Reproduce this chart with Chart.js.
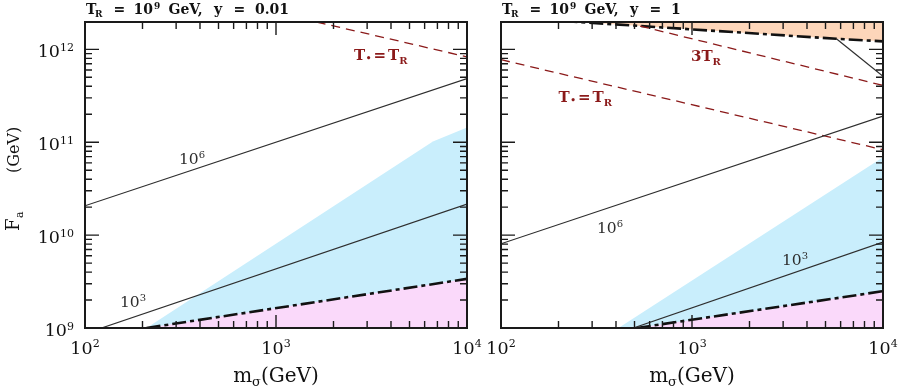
<!DOCTYPE html>
<html><head><meta charset="utf-8">
<script src="https://cdn.jsdelivr.net/npm/chart.js@4/dist/chart.umd.min.js"></script>
<style>
html,body{margin:0;padding:0;background:#fff;}
body{width:899px;height:387px;position:relative;overflow:hidden;}
canvas{position:absolute;top:0;}
#c1{left:0;}
#c2{left:480px;}
</style></head><body>
<canvas id="c1" width="499" height="387"></canvas>
<canvas id="c2" width="419" height="387"></canvas>
<script>
// ---------- axis ranges & tick labels ----------
const X_MIN = 100, X_MAX = 1e4;
const Y_MIN = 1e9, Y_MAX = 1.97e12;
const xDecades = [2, 3, 4];
const yDecades = [9, 10, 11, 12];

// ---------- left panel: T_R = 1e9 GeV, y = 0.01 ----------
const L_c1e6_m = [100, 10000];
const L_c1e6_F = [2.07e10, 4.85e11];
const L_c1e3_m = [122, 10000];
const L_c1e3_F = [1e9, 2.16e10];
const L_tstar_m = [1633, 10000];
const L_tstar_F = [1.97e12, 8.3e11];
const L_blue_m = [210, 6630, 10000];
const L_blue_F = [1e9, 1.02e11, 1.44e11];
const L_dd_m = [210, 10000];
const L_dd_F = [1e9, 3.38e9];

// ---------- right panel: T_R = 1e9 GeV, y = 1 ----------
const R_c1e6_m = [100, 10000];
const R_c1e6_F = [8.07e9, 1.91e11];
const R_c1e3_m = [493, 10000];
const R_c1e3_F = [1e9, 8.41e9];
const R_tstar_m = [100, 10000];
const R_tstar_F = [7.74e11, 8.30e10];
const R_3tr_m = [535, 10000];
const R_3tr_F = [1.78e12, 4.09e11];
const R_top_m = [212, 5700, 10000];
const R_top_F = [2.02e12, 1.30e12, 1.22e12];
const R_steep_m = [5700, 10000];
const R_steep_F = [1.30e12, 5.12e11];
const R_blue_m = [412, 10000];
const R_blue_F = [1e9, 6.9e10];
const R_dd_m = [514, 10000];
const R_dd_F = [1e9, 2.49e9];

// ---------- styles ----------
const BLUE = 'rgb(201,238,252)';
const PINK = 'rgb(250,217,250)';
const ORANGE = 'rgb(253,214,186)';
const RED = '#8b1a1a';
const GREY = '#2e2e2e';
const SERIF = '"DejaVu Serif", serif';

function pts(ms, Fs) { return ms.map((m, i) => ({x: m, y: Fs[i]})); }

function solid(ms, Fs) {
  return {data: pts(ms, Fs), borderColor: GREY, borderWidth: 1.2, fill: false, order: 1};
}
function redDash(ms, Fs) {
  return {data: pts(ms, Fs), borderColor: RED, borderWidth: 1.3, borderDash: [9, 6], fill: false, order: 1};
}
function dashDot(ms, Fs, fillColor, fillTo) {
  return {data: pts(ms, Fs), borderColor: '#111', borderWidth: 2.6, borderDash: [14, 4, 4, 4],
          backgroundColor: fillColor, fill: fillTo, order: 4};
}
function region(ms, Fs, color) {
  return {data: pts(ms, Fs), borderWidth: 0, borderColor: 'rgba(0,0,0,0)', backgroundColor: color, fill: 'start', order: 6};
}

// ---------- text helpers ----------
function drawRuns(ctx, x, y, parts, align, color) {
  ctx.fillStyle = color;
  ctx.textAlign = 'left';
  ctx.textBaseline = 'alphabetic';
  let w = 0;
  parts.forEach(p => { ctx.font = p.f; p.w = ctx.measureText(p.t).width; w += p.w + (p.g || 0); });
  let cx = align === 'center' ? x - w / 2 : (align === 'right' ? x - w : x);
  parts.forEach(p => { ctx.font = p.f; ctx.fillText(p.t, cx, y + (p.dy || 0)); cx += p.w + (p.g || 0); });
}
function pow10(exp, size, supSize, raise) {
  return [{t: '10', f: size + 'px ' + SERIF}, {t: String(exp), f: supSize + 'px ' + SERIF, dy: -raise}];
}
function tstarParts() {
  const B = 'bold 15px ' + SERIF;
  return [{t: 'T', f: B, g: 0.5}, {t: '•', f: 'bold 9px ' + SERIF, dy: 1, g: 2},
          {t: '=', f: B, g: 2}, {t: 'T', f: B}, {t: 'R', f: 'bold 10px ' + SERIF, dy: 4}];
}

const panelPlugin = {
  id: 'panel',
  afterDraw(chart, args, o) {
    const {ctx, chartArea: a} = chart;
    const xs = chart.scales.x, ys = chart.scales.y;
    ctx.save();
    // inward ticks
    ctx.strokeStyle = '#1a1a1a';
    ctx.lineWidth = 1.4;
    ctx.beginPath();
    xDecades.forEach(n => {
      for (let k = 1; k <= 9; k++) {
        const v = k * Math.pow(10, n);
        if (v < xs.min * 0.999 || v > xs.max * 1.001) continue;
        const px = xs.getPixelForValue(v);
        const L = k === 1 ? 13 : 7;
        ctx.moveTo(px, a.bottom); ctx.lineTo(px, a.bottom - L);
        ctx.moveTo(px, a.top); ctx.lineTo(px, a.top + L);
      }
    });
    yDecades.forEach(n => {
      for (let k = 1; k <= 9; k++) {
        const v = k * Math.pow(10, n);
        if (v < ys.min * 0.999 || v > ys.max * 1.001) continue;
        const py = ys.getPixelForValue(v);
        const L = k === 1 ? 14 : 7;
        ctx.moveTo(a.left, py); ctx.lineTo(a.left + L, py);
        ctx.moveTo(a.right, py); ctx.lineTo(a.right - L, py);
      }
    });
    ctx.stroke();
    ctx.lineWidth = 2;
    ctx.strokeRect(a.left, a.top, a.right - a.left, a.bottom - a.top);

    // x tick labels
    xDecades.forEach(n => {
      const px = xs.getPixelForValue(Math.pow(10, n));
      drawRuns(ctx, px, a.bottom + 25.5, pow10(n, 17.5, 11, 7), 'center', '#111');
    });
    // y tick labels
    if (o.yLabels) {
      yDecades.forEach(n => {
        const py = ys.getPixelForValue(Math.pow(10, n));
        drawRuns(ctx, a.left - 11, py + 8, pow10(n, 17.5, 11, 6), 'right', '#111');
      });
      // y axis title (rotated)
      ctx.save();
      ctx.translate(19, 231);
      ctx.rotate(-Math.PI / 2);
      drawRuns(ctx, 0, 0, [{t: 'F', f: '18px ' + SERIF, g: 0.5}, {t: 'a', f: '11px ' + SERIF, dy: 3.5}], 'left', '#111');
      drawRuns(ctx, 58, 0, [{t: '(GeV)', f: '16px ' + SERIF}], 'left', '#111');
      ctx.restore();
    }
    // x axis title
    drawRuns(ctx, xs.getPixelForValue(1000), 382,
      [{t: 'm', f: '20px ' + SERIF}, {t: 'σ', f: '13px ' + SERIF, dy: 4}, {t: '(GeV)', f: '20px ' + SERIF}],
      'center', '#111');
    // panel title
    const TB = 'bold 14px ' + SERIF, TS = 'bold 9px ' + SERIF;
    const tl = a.left;
    ctx.fillStyle = '#111';
    [[1, 'T', TB, 0], [10, 'R', TS, 3], [28.5, '=', TB, 0], [48.5, '10', TB, 0], [69, '9', TS, -5],
     [83.5, 'GeV,', TB, 0], [129, 'y', TB, 0], [148.5, '=', TB, 0], [170, o.yval, TB, 0]].forEach(r => {
      ctx.font = r[2]; ctx.fillText(r[1], tl + r[0], 14 + r[3]);
    });
    // curve annotations
    o.notes.forEach(nt => {
      let parts;
      if (nt.kind === 'pow') parts = pow10(nt.exp, 15.5, 10, 6);
      else if (nt.kind === 'tstar') parts = tstarParts();
      else parts = [{t: '3T', f: 'bold 15px ' + SERIF}, {t: 'R', f: 'bold 10px ' + SERIF, dy: 4}];
      drawRuns(ctx, tl + nt.dx, nt.y, parts, 'left', nt.color);
    });
    ctx.restore();
  }
};

function makeChart(id, datasets, padRight, yWidth, opts) {
  return new Chart(document.getElementById(id), {
    type: 'line',
    data: {datasets},
    options: {
      responsive: false,
      animation: false,
      events: [],
      layout: {padding: {top: 22, right: padRight, left: 0, bottom: 0}},
      elements: {point: {radius: 0}, line: {tension: 0}},
      plugins: {legend: {display: false}, tooltip: {enabled: false}, panel: opts},
      scales: {
        x: {type: 'logarithmic', min: X_MIN, max: X_MAX,
            grid: {display: false}, border: {display: false}, ticks: {display: false},
            afterFit(s) { s.height = 59; s.paddingLeft = 0; s.paddingRight = 0; }},
        y: {type: 'logarithmic', min: Y_MIN, max: Y_MAX,
            grid: {display: false}, border: {display: false}, ticks: {display: false},
            afterFit(s) { s.width = yWidth; s.paddingTop = 0; s.paddingBottom = 0; }}
      }
    },
    plugins: [panelPlugin]
  });
}

makeChart('c1', [
  region(L_blue_m, L_blue_F, BLUE),
  dashDot(L_dd_m, L_dd_F, PINK, 'start'),
  solid(L_c1e6_m, L_c1e6_F),
  solid(L_c1e3_m, L_c1e3_F),
  redDash(L_tstar_m, L_tstar_F)
], 32, 85, {
  yLabels: true, yval: '0.01',
  notes: [
    {kind: 'pow', exp: 6, dx: 94, y: 164, color: GREY},
    {kind: 'pow', exp: 3, dx: 35, y: 306.5, color: GREY},
    {kind: 'tstar', dx: 269, y: 59.5, color: RED}
  ]
});

makeChart('c2', [
  region(R_blue_m, R_blue_F, BLUE),
  dashDot(R_dd_m, R_dd_F, PINK, 'start'),
  dashDot(R_top_m, R_top_F, ORANGE, 'end'),
  solid(R_steep_m, R_steep_F),
  solid(R_c1e6_m, R_c1e6_F),
  solid(R_c1e3_m, R_c1e3_F),
  redDash(R_tstar_m, R_tstar_F),
  redDash(R_3tr_m, R_3tr_F)
], 16, 21, {
  yLabels: false, yval: '1',
  notes: [
    {kind: 'pow', exp: 6, dx: 96, y: 232.5, color: GREY},
    {kind: 'pow', exp: 3, dx: 281, y: 265, color: GREY},
    {kind: 'tstar', dx: 57.5, y: 101.5, color: RED},
    {kind: '3tr', dx: 190, y: 60.5, color: RED}
  ]
});
</script>
</body></html>
